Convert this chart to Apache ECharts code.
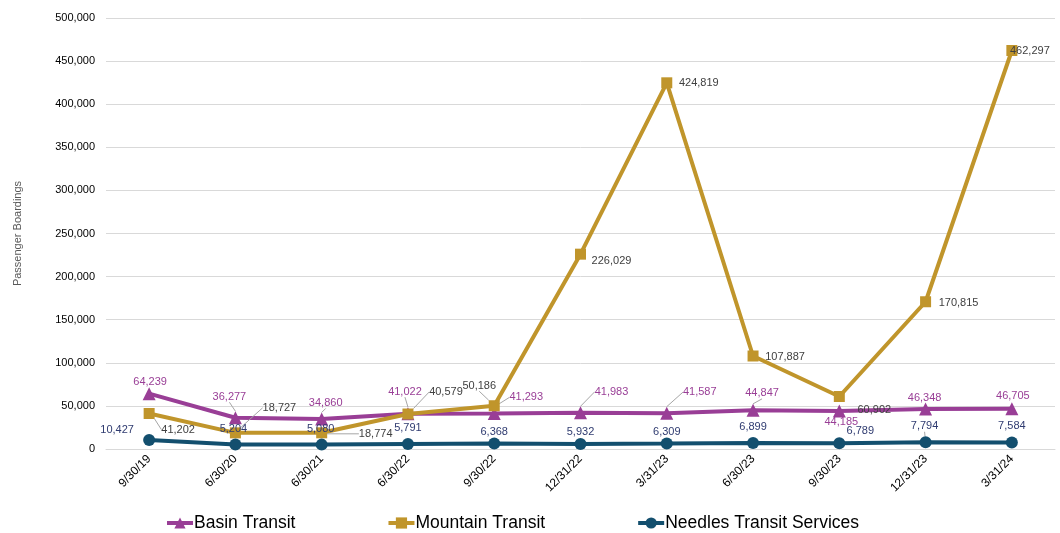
<!DOCTYPE html>
<html>
<head>
<meta charset="utf-8">
<script src="https://cdn.jsdelivr.net/npm/echarts@6/dist/echarts.min.js"></script>
<style>
html,body{margin:0;padding:0;background:#fff;}
#chart{width:1060px;height:533px;}
</style>
</head>
<body>
<div id="chart"></div>
<script>
const categories = ['9/30/19','6/30/20','6/30/21','6/30/22','9/30/22','12/31/22','3/31/23','6/30/23','9/30/23','12/31/23','3/31/24'];
const basinTransit = [64239, 36277, 34860, 41022, 41293, 41983, 41587, 44847, 44185, 46348, 46705];
const mountainTransit = [41202, 18727, 18774, 40579, 50186, 226029, 424819, 107887, 60902, 170815, 462297];
const needlesTransit = [10427, 5204, 5080, 5791, 6368, 5932, 6309, 6899, 6789, 7794, 7584];
const yTicks = {min: 0, max: 500000, interval: 50000};

// label offsets (label centre relative to point) and leader-line flags, layout only
const basinOff = [[1,-12],[-6,-21],[4,-16],[-3,-22],[32,-16],[31,-21],[33,-21],[9,-17],[2,11],[-1,-11],[1,-13]];
const mountOff = [[29,16],[44,-25],[54,1],[38,-22],[-15,-20],[31,7],[32,0],[32,1],[35,13],[33,1],[18,0]];
const needOff = [[-32,-10],[-2,-16],[-1,-16],[0,-16],[0,-12],[0,-12],[0,-12],[0,-16],[21,-12],[-1,-16],[0,-16]];
const basinLead = [0,1,1,1,1,1,1,1,0,0,0];
const mountLead = [1,1,1,1,1,0,0,0,0,0,0];
const needLead = [0,0,0,0,0,0,0,0,0,1,0];

const fmt = v => v.toLocaleString('en-US');
const FONT = 'Liberation Sans, Arial, sans-serif';

function mkSeries(name, data, color, labelColor, symbol, size, off, lead) {
  return {
    name: name,
    type: 'line',
    data: data.map((v, i) => ({value: v, labelLine: {show: !!lead[i]}})),
    symbol: symbol,
    symbolSize: size,
    lineStyle: {width: 4, color: color},
    itemStyle: {color: color},
    label: {
      show: true,
      position: 'inside',
      color: labelColor,
      fontSize: 11,
      fontFamily: FONT,
      formatter: p => fmt(p.value)
    },
    labelLayout: function (p) {
      const o = off[p.dataIndex];
      return {dx: o[0], dy: o[1]};
    },
    labelLine: {show: true, length2: 0, lineStyle: {color: '#a6a6a6', width: 1}},
    animation: false
  };
}

const chart = echarts.init(document.getElementById('chart'));
chart.setOption({
  backgroundColor: '#fff',
  animation: false,
  grid: {left: 106, right: 5, top: 18, bottom: 84, containLabel: false},
  xAxis: {
    type: 'category',
    data: categories,
    boundaryGap: true,
    axisLine: {lineStyle: {color: '#d9d9d9'}},
    axisTick: {show: false},
    axisLabel: {rotate: 45, color: '#000', fontSize: 12, fontFamily: FONT, margin: 8, interval: 0}
  },
  yAxis: {
    type: 'value',
    min: yTicks.min, max: yTicks.max, interval: yTicks.interval,
    name: 'Passenger Boardings',
    nameLocation: 'middle',
    nameGap: 83,
    nameRotate: 90,
    nameTextStyle: {color: '#595959', fontSize: 11, fontFamily: FONT},
    axisLine: {show: false},
    axisTick: {show: false},
    splitLine: {lineStyle: {color: '#d9d9d9'}},
    axisLabel: {color: '#000', fontSize: 11, fontFamily: FONT, margin: 11, formatter: v => fmt(v)}
  },
  legend: {
    left: 160, top: 509,
    itemWidth: 26, itemHeight: 14, itemGap: 91,
    lineStyle: {width: 4},
    textStyle: {color: '#000', fontSize: 17.5, fontFamily: FONT, padding: [0, 0, 0, -4]},
    data: ['Basin Transit', 'Mountain Transit', 'Needles Transit Services']
  },
  series: [
    mkSeries('Basin Transit', basinTransit, '#993E96', '#993E96', 'triangle', 13, basinOff, basinLead),
    mkSeries('Mountain Transit', mountainTransit, '#C0952B', '#404040', 'rect', 11, mountOff, mountLead),
    mkSeries('Needles Transit Services', needlesTransit, '#134F6E', '#2F3B70', 'circle', 12, needOff, needLead)
  ]
});
</script>
</body>
</html>
